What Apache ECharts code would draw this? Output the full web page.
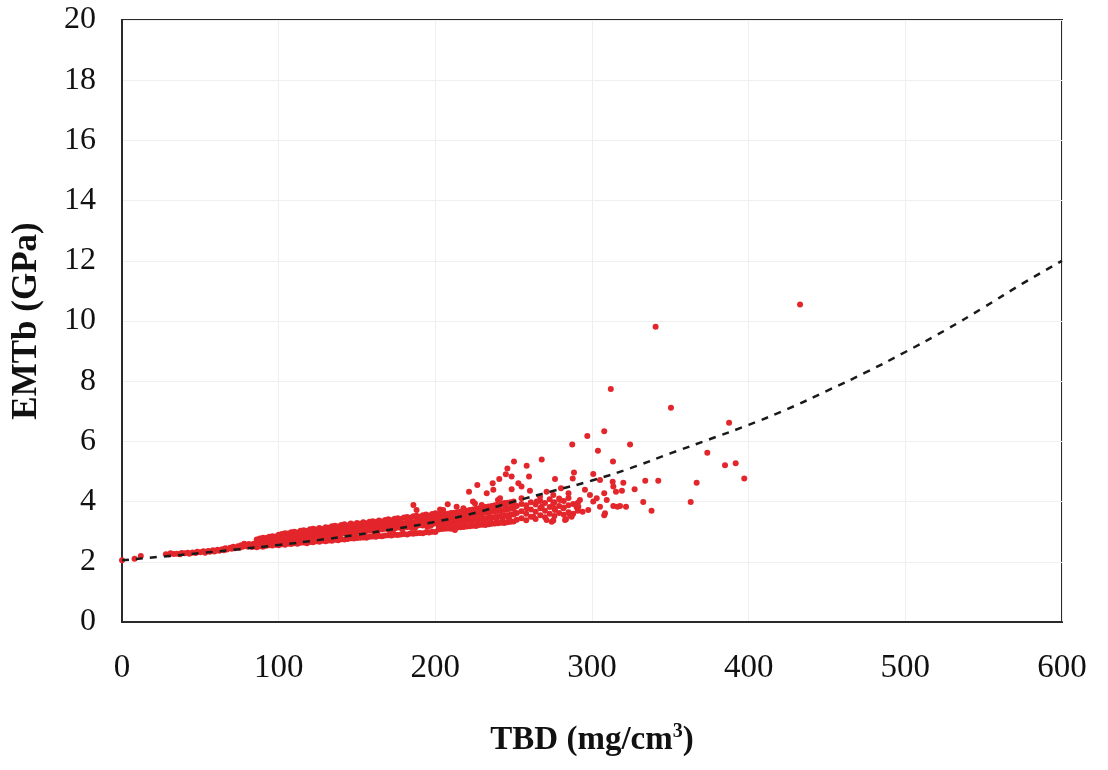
<!DOCTYPE html>
<html>
<head>
<meta charset="utf-8">
<script src="https://cdn.jsdelivr.net/npm/echarts@6/dist/echarts.min.js"></script>
<style>html,body{margin:0;padding:0;background:#fff}#c{width:1108px;height:770px}</style>
</head>
<body>
<div id="c"></div>
<script>
// Axis ticks
const xTicks = [0, 100, 200, 300, 400, 500, 600];
const yTicks = [0, 2, 4, 6, 8, 10, 12, 14, 16, 18, 20];

const lowDensity = [
  [0,2.05],[8,2.10],[12,2.19],[28,2.25],[30,2.24],[31,2.28],[33,2.26],[35,2.27],[37,2.25],[38,2.29],
  [40,2.28],[42,2.30],[43,2.27],[45,2.31],[47,2.29],[48,2.33],[50,2.32],[52,2.35],[53,2.30],[55,2.36],
  [56,2.33],[58,2.38],[59,2.34],[61,2.40],[62,2.37],[64,2.42],[65,2.38],[66,2.45],[67,2.41],[69,2.47],
  [70,2.43],[71,2.50],[72,2.45],[74,2.52],[75,2.47],[76,2.55],[77,2.50],[79,2.56],[80,2.51],[81,2.59],
  [82,2.54],[84,2.60],[85,2.55],[78,2.60],[83,2.49]
];
const midDensity = [
  [86,2.48],[86,2.57],[86,2.66],[86,2.74],[88,2.52],[88,2.60],[88,2.70],[88,2.77],
  [90,2.50],[90,2.63],[90,2.69],[90,2.80],[92,2.53],[92,2.61],[92,2.73],[92,2.79],
  [94,2.55],[94,2.65],[94,2.72],[94,2.83],[96,2.54],[96,2.67],[96,2.76],[96,2.85],
  [98,2.57],[98,2.66],[98,2.78],[98,2.84],[100,2.55],[100,2.69],[100,2.77],[100,2.90],
  [102,2.58],[102,2.71],[102,2.81],[102,2.92],[104,2.57],[104,2.70],[104,2.83],[104,2.95],
  [106,2.60],[106,2.74],[106,2.82],[106,2.94],[108,2.59],[108,2.73],[108,2.86],[108,2.98],
  [110,2.62],[110,2.76],[110,2.85],[110,3.00],[112,2.60],[112,2.75],[112,2.88],[112,2.97],
  [114,2.63],[114,2.79],[114,2.90],[114,3.03],[116,2.64],[116,2.77],[116,2.92],[116,3.05],
  [118,2.62],[118,2.80],[118,2.89],[118,3.02],[120,2.66],[120,2.82],[120,2.94],[120,3.08],
  [122,2.65],[122,2.81],[122,2.96],[122,3.10],[124,2.68],[124,2.85],[124,2.93],[124,3.07],
  [126,2.67],[126,2.84],[126,2.98],[126,3.12],[128,2.70],[128,2.86],[128,3.00],[128,3.09],
  [130,2.68],[130,2.88],[130,2.97],[130,3.15],[132,2.71],[132,2.87],[132,3.02],[132,3.13],
  [134,2.70],[134,2.90],[134,3.04],[134,3.18],[136,2.73],[136,2.92],[136,3.01],[136,3.20],
  [138,2.72],[138,2.91],[138,3.06],[138,3.17],[140,2.75],[140,2.94],[140,3.08],[140,3.22],
  [142,2.74],[142,2.96],[142,3.05],[142,3.25],[144,2.76],[144,2.95],[144,3.10],[144,3.21],
  [146,2.78],[146,2.98],[146,3.12],[146,3.27],[148,2.77],[148,2.97],[148,3.09],[148,3.24],
  [150,2.79],[150,3.00],[150,3.14],[150,3.29],[152,2.80],[152,3.02],[152,3.11],[152,3.26],
  [154,2.81],[154,3.01],[154,3.16],[154,3.31],[156,2.80],[156,3.04],[156,3.18],[156,3.28],
  [158,2.83],[158,3.03],[158,3.15],[158,3.33],[160,2.84],[160,3.06],[160,3.20],[160,3.35],
  [162,2.83],[162,3.05],[162,3.17],[162,3.32],[164,2.86],[164,3.08],[164,3.22],[164,3.37],
  [166,2.85],[166,3.07],[166,3.24],[166,3.34],[168,2.87],[168,3.10],[168,3.21],[168,3.39],
  [170,2.88],[170,3.09],[170,3.26],[170,3.41],[172,2.87],[172,3.12],[172,3.23],[172,3.38],
  [174,2.90],[174,3.11],[174,3.28],[174,3.43],[176,2.89],[176,3.14],[176,3.25],[176,3.45],
  [178,2.91],[178,3.13],[178,3.30],[178,3.42],[180,2.92],[180,3.16],[180,3.27],[180,3.47],
  [182,2.91],[182,3.15],[182,3.32],[182,3.49],[184,2.94],[184,3.18],[184,3.34],[184,3.46],
  [186,2.93],[186,3.20],[186,3.31],[186,3.51],[188,2.95],[188,3.19],[188,3.36],[188,3.53],
  [190,2.96],[190,3.22],[190,3.38],[190,3.50],[192,2.95],[192,3.21],[192,3.35],[192,3.55],
  [194,2.98],[194,3.24],[194,3.40],[194,3.57],[196,2.97],[196,3.26],[196,3.42],[196,3.54],
  [198,3.00],[198,3.25],[198,3.39],[198,3.59],[200,2.99],[200,3.28],[200,3.44],[200,3.61]
];
const midFill = [
  [87,2.63],[91,2.58],[95,2.78],[99,2.62],[103,2.86],[107,2.68],[111,2.94],[115,2.71],[119,2.98],
  [123,2.76],[127,3.04],[131,2.80],[135,3.10],[139,2.85],[143,3.16],[147,2.90],[151,3.21],[155,2.95],
  [159,3.26],[163,3.00],[167,3.30],[171,3.04],[175,3.35],[179,3.08],[183,3.40],[187,3.12],[191,3.44],
  [195,3.16],[199,3.49],[89,2.70],[93,2.68],[97,2.72],[101,2.64],[105,2.79],[109,2.83],[113,2.86],
  [117,2.88],[121,2.91],[125,2.80],[129,2.95],[133,2.99],[137,2.87],[141,3.02],[145,3.06],[149,2.94],
  [153,3.09],[157,3.13],[161,2.98],[165,3.17],[169,3.20],[173,3.06],[177,3.24],[181,3.28],[185,3.12],
  [189,3.33],[193,3.30],[197,3.20]
];
const highDensity = [
  [202,3.07],[202,3.22],[202,3.38],[202,3.56],[204,3.09],[204,3.24],[204,3.40],[204,3.58],
  [206,3.10],[206,3.26],[206,3.42],[206,3.57],[208,3.11],[208,3.27],[208,3.43],[208,3.60],
  [210,3.10],[210,3.28],[210,3.45],[210,3.62],[212,3.13],[212,3.30],[212,3.47],[212,3.63],
  [214,3.14],[214,3.31],[214,3.48],[214,3.65],[216,3.15],[216,3.33],[216,3.50],[216,3.66],
  [218,3.16],[218,3.34],[218,3.51],[218,3.68],[220,3.17],[220,3.36],[220,3.53],[220,3.70],
  [222,3.18],[222,3.37],[222,3.55],[222,3.72],[224,3.20],[224,3.39],[224,3.56],[224,3.74],
  [226,3.19],[226,3.40],[226,3.58],[226,3.76],[228,3.22],[228,3.42],[228,3.60],[228,3.78],
  [230,3.23],[230,3.43],[230,3.61],[230,3.80],[232,3.22],[232,3.44],[232,3.63],[232,3.82],
  [234,3.25],[234,3.46],[234,3.64],[234,3.84],[236,3.26],[236,3.47],[236,3.66],[236,3.85],
  [238,3.27],[238,3.49],[238,3.68],[238,3.88],[240,3.28],[240,3.50],[240,3.69],[240,3.90],
  [242,3.30],[242,3.52],[242,3.71],[242,3.92],[244,3.29],[244,3.53],[244,3.72],[244,3.95],
  [246,3.31],[246,3.55],[246,3.74],[246,3.96],[248,3.33],[248,3.56],[248,3.76],[248,3.98],
  [250,3.34],[250,3.57],[250,3.77],[250,4.00],
  [201,3.47],[203,3.18],[205,3.50],[207,3.20],[209,3.53],[211,3.22],[213,3.57],[215,3.24],[217,3.60],
  [219,3.27],[221,3.62],[223,3.29],[225,3.66],[227,3.31],[229,3.70],[231,3.34],[233,3.73],[235,3.37],
  [237,3.76],[239,3.40],[241,3.80],[243,3.43],[245,3.84],[247,3.45],[249,3.88],
  [252,3.40],[252,3.62],[252,3.85],[255,3.45],[255,3.68],[255,3.92],[258,3.38],[258,3.60],[258,3.88],
  [261,3.50],[261,3.74],[261,3.98],[264,3.42],[264,3.66],[264,3.90],[267,3.55],[267,3.78],[267,4.02],
  [270,3.48],[270,3.70],[270,3.95],[273,3.60],[273,3.82],[273,4.08],[276,3.52],[276,3.76],[276,3.98],
  [279,3.62],[279,3.85],[279,4.10],[282,3.56],[282,3.80],[282,4.02],[285,3.65],[285,3.88],[285,4.12],
  [288,3.60],[288,3.92],[291,3.70],[291,3.96],[294,3.66]
];
const scattered = [
  [186,3.89],[188,3.72],[203,3.74],[205,3.72],[207.9,3.91],[212.5,3.06],[213.6,3.83],[217.9,3.78],
  [221.5,4.33],[224,4.0],[225.3,3.94],[226.8,4.55],[229.6,3.89],[232.8,4.28],[234.9,3.39],[236.6,4.61],
  [237,4.39],[237,3.83],[240,4.05],[240.8,4.75],[241.3,4.11],[242.3,3.52],[245,4.91],[246,5.10],
  [248.7,4.83],[248.7,4.41],[250.2,5.33],[250.9,3.61],[253,4.61],[255,4.50],[255,4.11],[258.3,5.19],
  [258.3,3.78],[259.8,4.83],[260.4,4.36],[262.5,3.50],[264.7,4.0],[266.8,4.16],[267.9,5.40],[267.9,3.83],
  [271,4.33],[271,3.39],[274.3,3.33],[275.3,4.22],[275.3,3.94],[275.3,3.37],[276.4,4.75],[276.4,3.72],
  [279.6,4.05],[280.2,4.44],[281.7,3.78],[282.8,3.39],[283.4,3.41],[285,4.28],[286,3.55],[287,3.50],
  [287.4,5.90],[287.7,4.77],[288.5,4.97],[290.2,3.81],[291.3,3.83],[292.3,4.05],[295.5,4.39],[297,6.18],
  [297.6,3.72],[298.7,4.22],[300.8,4.92],[300.8,4.00],[303,4.11],[303.8,5.69],[305.1,3.83],[305.1,4.72],
  [307.8,6.34],[307.8,3.55],[307.8,4.28],[308.3,3.61],[309.4,4.05],[312,7.74],[313.2,4.66],[313.4,5.33],
  [313.6,3.85],[313.6,4.50],[315.3,4.33],[316.2,3.83],[317.9,3.85],[319.1,4.36],[320,4.63],[321.7,3.83],
  [324.3,5.90],[327.2,4.41],[332.7,3.99],[334,4.69],[338,3.70],[340.6,9.81],[342.3,4.69],[350.4,7.12],
  [363,3.99],[366.8,4.63],[373.6,5.62],[384.9,5.21],[387.5,6.62],[391.7,5.27],[397.2,4.77],[432.8,10.55]
];

// Dashed trend line
const trendTBD  = [0,25,50,75,100,125,150,175,200,225,250,275,300,325,350,375,400,425,450,475,500,525,550,575,600];
const trendEMTb = [2.05,2.17,2.29,2.42,2.56,2.72,2.90,3.10,3.33,3.62,4.00,4.35,4.70,5.12,5.60,6.07,6.55,7.08,7.68,8.30,8.97,9.68,10.45,11.25,12.0];

const points = lowDensity.concat(midDensity, midFill, highDensity, scattered);
const trend = trendTBD.map((x, i) => [x, trendEMTb[i]]);

const serif = 'Liberation Serif';
const chart = echarts.init(document.getElementById('c'), null, {renderer: 'canvas'});
chart.setOption({
  backgroundColor: '#ffffff',
  animation: false,
  grid: {left: 122, right: 46, top: 20, bottom: 148, show: true, borderColor: '#2a2a2a', borderWidth: 2, backgroundColor: 'transparent'},
  xAxis: {
    type: 'value', min: xTicks[0], max: xTicks[xTicks.length - 1], interval: 100,
    name: '{a|TBD (mg/cm}{s|3}{a|)}', nameLocation: 'middle', nameGap: 100,
    nameTextStyle: {rich: {
      a: {fontFamily: serif, fontSize: 33, fontWeight: 'bold', color: '#111'},
      s: {fontFamily: serif, fontSize: 20, fontWeight: 'bold', color: '#111', padding: [0, 0, 16, 0]}
    }},
    axisLine: {show: true, lineStyle: {color: '#2a2a2a', width: 2}},
    axisTick: {show: false},
    axisLabel: {fontFamily: serif, fontSize: 33, color: '#111', margin: 30},
    splitLine: {show: true, lineStyle: {color: '#efefef', width: 1}}
  },
  yAxis: {
    type: 'value', min: yTicks[0], max: yTicks[yTicks.length - 1], interval: 2,
    name: 'EMTb (GPa)', nameLocation: 'middle', nameGap: 78, nameRotate: 90,
    nameTextStyle: {fontFamily: serif, fontSize: 35, fontWeight: 'bold', color: '#111'},
    axisLine: {show: true, lineStyle: {color: '#2a2a2a', width: 2}},
    axisTick: {show: false},
    axisLabel: {fontFamily: serif, fontSize: 32, color: '#111', margin: 26},
    splitLine: {show: true, lineStyle: {color: '#efefef', width: 1}}
  },
  series: [
    {
      type: 'scatter', data: points, symbol: 'circle', symbolSize: 6,
      itemStyle: {color: '#e3262b', opacity: 1}, z: 2
    },
    {
      type: 'line', data: trend, showSymbol: false, symbol: 'none', smooth: true,
      lineStyle: {color: '#1a1a1a', width: 2.5, type: [7, 7]}, z: 3
    }
  ]
});
</script>
</body>
</html>
